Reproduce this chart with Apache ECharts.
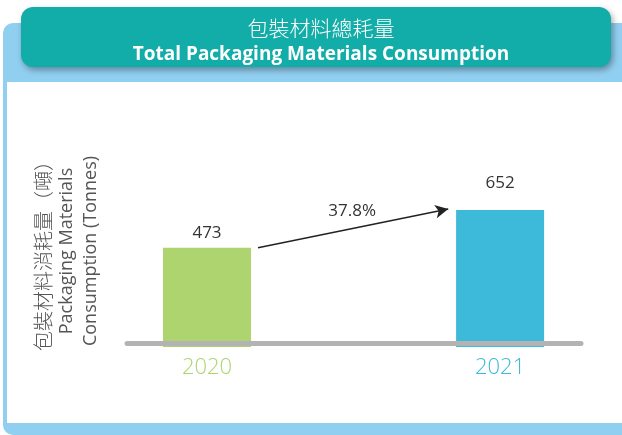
<!DOCTYPE html>
<html>
<head>
<meta charset="utf-8">
<script src="https://cdn.jsdelivr.net/npm/echarts@6/dist/echarts.min.js"></script>
<style>
  html, body { margin: 0; padding: 0; background: #fff; }
  #chart { width: 622px; height: 435px; }
</style>
</head>
<body>
<div id="chart"></div>
<script>
// 數據
const years = ['2020', '2021']
const consumption = [473, 652]
const barColors = ['#add46f', '#3db9da']
const labelGap = [6, 18]

const titleZh = '包裝材料總耗量'
const titleEn = 'Total Packaging Materials Consumption'
const yNameZh = '包裝材料消耗量（噸）'
const yNameEn1 = 'Packaging Materials'
const yNameEn2 = 'Consumption (Tonnes)'

const growth = ((consumption[1] - consumption[0]) / consumption[0] * 100).toFixed(1) + '%'

let chart = echarts.init(document.getElementById('chart'))

let option = {
  animation: false,
  graphic: [
    // 淺藍底框
    {
      type: 'rect', z: -10,
      shape: { x: 3, y: 23, width: 700, height: 412, r: [10, 0, 0, 10] },
      style: { fill: '#91cff1' }
    },
    {
      type: 'rect', z: -9,
      shape: { x: 7, y: 82, width: 700, height: 341 },
      style: { fill: '#ffffff' }
    },
    // 標題底
    {
      type: 'rect', z: -8,
      shape: { x: 21, y: 7, width: 590, height: 60, r: 12 },
      style: {
        fill: '#12ada8',
        shadowBlur: 6,
        shadowOffsetX: 2,
        shadowOffsetY: 3,
        shadowColor: 'rgba(0,0,0,0.35)'
      }
    }
  ],
  title: {
    text: '{zh|' + titleZh + '}\n{en|' + titleEn + '}',
    left: 316,
    top: 9,
    textAlign: 'center',
    textStyle: {
      rich: {
        zh: { fontFamily: 'Noto Sans CJK TC', fontSize: 21, fontWeight: 300, color: '#fff', lineHeight: 28 },
        en: { fontFamily: 'Open Sans', fontSize: 19, fontWeight: 'bold', color: '#fff', lineHeight: 26 }
      }
    }
  },
  grid: {
    left: 127,
    right: 41,
    top: 179,
    bottom: 88
  },
  xAxis: {
    type: 'value',
    min: -0.273,
    max: 1.276,
    offset: -4,
    z: 5,
    splitLine: { show: false },
    axisTick: { show: false },
    axisLine: { show: true, onZero: false, lineStyle: { color: '#b3b3b3', width: 5 } },
    axisLabel: {
      customValues: [0, 1],
      margin: 14,
      fontFamily: 'Open Sans',
      fontSize: 22,
      fontWeight: 300,
      formatter: v => years[Math.round(v)],
      color: (v, i) => barColors[Math.round(v)]
    }
  },
  yAxis: {
    type: 'value',
    min: 0,
    max: 800,
    splitLine: { show: false },
    axisLine: { show: false },
    axisTick: { show: false },
    axisLabel: { show: false },
    name: '{zh|' + yNameZh + '}\n{en|' + yNameEn1 + '}\n{en|' + yNameEn2 + '}',
    nameLocation: 'middle',
    nameRotate: 90,
    nameGap: 24,
    nameTextStyle: {
      padding: [0, 0, 0, 24],
      rich: {
        zh: { fontFamily: 'Noto Sans CJK TC', fontSize: 20, fontWeight: 300, color: '#555', lineHeight: 24 },
        en: { fontFamily: 'Open Sans', fontSize: 18, color: '#555', lineHeight: 24 }
      }
    }
  },
  series: [
    {
      type: 'bar',
      barWidth: 88,
      data: consumption.map((v, i) => ({
        value: [i, v],
        itemStyle: { color: barColors[i] },
        label: { distance: labelGap[i] }
      })),
      label: {
        show: true,
        position: 'top',
        fontFamily: 'Open Sans',
        fontSize: 17,
        color: '#333',
        formatter: p => p.value[1]
      },
      markLine: {
        silent: true,
        symbol: ['none', 'arrow'],
        symbolSize: [10, 13],
        label: { show: false },
        lineStyle: { color: '#222', width: 1.5, type: 'solid' },
        data: [[
          { coord: [0.174, consumption[0]] },
          { coord: [0.823, consumption[1] + 5] }
        ]]
      },
      markPoint: {
        silent: true,
        symbol: 'rect',
        symbolSize: 0,
        label: {
          show: true,
          position: 'inside',
          fontFamily: 'Open Sans',
          fontSize: 17,
          color: '#333',
          formatter: growth
        },
        data: [{ coord: [0.495, 648] }]
      }
    }
  ]
}

chart.setOption(option)
</script>
</body>
</html>
